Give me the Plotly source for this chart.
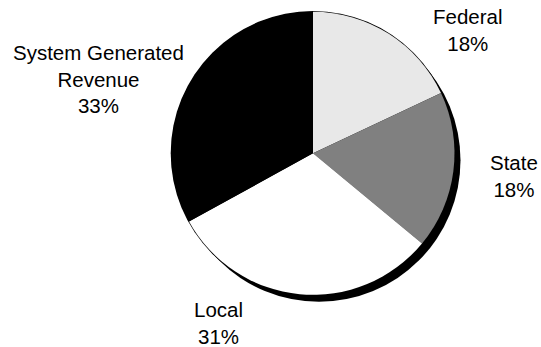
import plotly.graph_objects as go

# Data
categories = ["Federal", "State", "Local", "System Generated Revenue"]
values = [18, 18, 31, 33]
label_lines = ["Federal", "State", "Local", "System Generated<br>Revenue"]
colors = ["#e8e8e8", "#808080", "#ffffff", "#000000"]

W, H = 541, 347
cx, cy, r = 313.0, 153.3, 141.5
sdx, sdy = 6.0, 7.0

def px(x):
    return x / W

def py(y):
    return 1 - y / H

fig = go.Figure()
fig.add_trace(go.Pie(
    labels=categories,
    values=values,
    sort=False,
    direction="clockwise",
    rotation=0,
    marker=dict(colors=colors, line=dict(width=0)),
    textinfo="none",
    hoverinfo="label+percent",
    showlegend=False,
    domain=dict(x=[px(cx - r), px(cx + r)], y=[py(cy + r), py(cy - r)]),
))

# shadow and outline circles
fig.add_shape(type="circle", xref="paper", yref="paper", layer="below",
              x0=px(cx - r + sdx), x1=px(cx + r + sdx),
              y0=py(cy + r + sdy), y1=py(cy - r + sdy),
              fillcolor="black", line=dict(width=0))
fig.add_shape(type="circle", xref="paper", yref="paper", layer="below",
              x0=px(cx - r - 0.8), x1=px(cx + r + 0.8),
              y0=py(cy + r + 0.8), y1=py(cy - r - 0.8),
              fillcolor="black", line=dict(width=0))

label_pos = [(468, 30), (514, 176), (218, 323), (98.5, 79)]
for name, val, (lx, ly) in zip(label_lines, values, label_pos):
    fig.add_annotation(
        x=px(lx), y=py(ly), xref="paper", yref="paper",
        xanchor="center", yanchor="middle",
        text=f"{name}<br>{val}%", showarrow=False,
        font=dict(family="Liberation Sans, Arial", size=20.5, color="black"),
        align="center",
    )

fig.update_layout(
    width=W, height=H,
    margin=dict(l=0, r=0, t=0, b=0),
    paper_bgcolor="white",
    plot_bgcolor="white",
)

fig.write_html(
    "out.html",
    config={"displayModeBar": False},
    post_script="document.body.style.margin='0';document.body.style.padding='0';",
)
